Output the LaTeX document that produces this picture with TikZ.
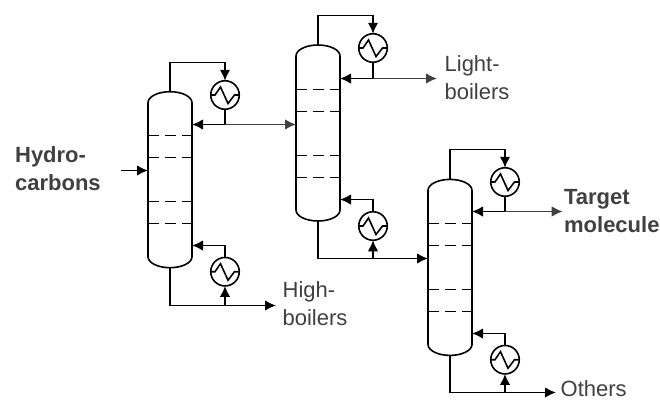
\documentclass[tikz,border=0pt]{standalone}
\usepackage{fontspec}
\setmainfont{Liberation Sans}
\usetikzlibrary{arrows.meta, positioning}

\definecolor{labelgray}{HTML}{404040}

\tikzset{
  column/.style = {minimum width = 44pt, minimum height = 176pt, inner sep = 0pt, outer sep = 0pt},
  exchanger/.style = {draw, circle, minimum size = 28.5pt, inner sep = 0pt, outer sep = 0pt,
    path picture = {
      \draw[shift = {(path picture bounding box.center)}]
        (-15pt, 0pt) -- (-10pt, 0pt) -- (-4.5pt, 8pt) -- (3pt, -8.5pt) -- (9.5pt, 0pt) -- (15pt, 0pt);
    }},
  tray/.style = {dash pattern = on 11pt off 6pt},
  outflow/.style = {draw = labelgray, fill = labelgray},
  streamlabel/.style = {text = labelgray, align = left, anchor = west, font = \fontsize{22}{28}\selectfont},
  mainlabel/.style = {streamlabel, font = \fontsize{22}{28}\selectfont\bfseries}
}

\newcommand{\drawcolumn}[1]{
  \draw ([yshift = -11pt]#1.north west) arc[start angle = 180, end angle = 0, x radius = 22pt, y radius = 11pt]
    -- ([yshift = 11pt]#1.south east) arc[start angle = 0, end angle = 180, x radius = 22pt, y radius = -11pt] -- cycle;
}

\begin{document}
\begin{tikzpicture}[>={Latex[length=11pt,width=10.5pt]}, x=1pt, y=-1pt, line width=1.6pt]
    \useasboundingbox (0,0) rectangle (660,399);

    % columns
    \node[column] (colOne) at (170,179.7) {};
    \node[column] (colTwo) at (318,133) {};
    \node[column] (colThree) at (450,267.4) {};
    \drawcolumn{colOne}
    \drawcolumn{colTwo}
    \drawcolumn{colThree}

    \foreach \y in {135.5,157.5,201.5,223.5}
      \draw[tray] (colOne.west |- 0,\y) -- (colOne.east |- 0,\y);
    \foreach \y in {89.5,111.5,155.5,177.5}
      \draw[tray] (colTwo.west |- 0,\y) -- (colTwo.east |- 0,\y);
    \foreach \y in {223.5,245.5,289.5,311.5}
      \draw[tray] (colThree.west |- 0,\y) -- (colThree.east |- 0,\y);

    % condensers and reboilers
    \node[exchanger] (condOne) at (225,95) {};
    \node[exchanger] (rebOne) at (225,271.7) {};
    \node[exchanger] (condTwo) at (373,48) {};
    \node[exchanger] (rebTwo) at (373,226) {};
    \node[exchanger] (condThree) at (505,182) {};
    \node[exchanger] (rebThree) at (505,359.7) {};

    % labels
    \node[mainlabel] (hydro) at (11,168.5) {Hydro-\\carbons};
    \node[streamlabel] (high) at (278.5,304) {High-\\boilers};
    \node[streamlabel] (light) at (440.5,78) {Light-\\boilers};
    \node[mainlabel] (target) at (560,211.5) {Target\\molecule};
    \node[streamlabel] (others) at (556.5,389) {Others};

    \coordinate (feedOne) at (121,170.5);
    \coordinate (outLight) at (437,78.5);
    \coordinate (outTarget) at (562.7,211.5);
    \coordinate (outHigh) at (276,305.5);
    \coordinate (outOthers) at (556,392.5);

    \draw[->] (feedOne) -- (feedOne -| colOne.west);

    % first column
    \draw[->] (colOne.north) -- ++(0,-29.2) -| (condOne.north);
    \coordinate (refluxOne) at (condOne.south |- 0,124.5);
    \draw (condOne.south) -- (refluxOne);
    \draw[->] (refluxOne) -- (refluxOne -| colOne.east);
    \draw[->, outflow] (refluxOne) -- (refluxOne -| colTwo.west);
    \draw[->] (rebOne.north) |- (colOne.east |- 0,245.5);
    \coordinate (bottomOne) at (rebOne.south |- outHigh);
    \draw[->] (colOne.south) |- (outHigh);
    \draw[->] (bottomOne) -- (rebOne.south);

    % second column
    \draw[->] (colTwo.north) -- ++(0,-29.5) -| (condTwo.north);
    \coordinate (refluxTwo) at (condTwo.south |- outLight);
    \draw (condTwo.south) -- (refluxTwo);
    \draw[->] (refluxTwo) -- (refluxTwo -| colTwo.east);
    \draw[->, outflow] (refluxTwo) -- (outLight);
    \draw[->] (rebTwo.north) |- (colTwo.east |- 0,199.5);
    \coordinate (bottomTwo) at (rebTwo.south |- 0,258.5);
    \draw[->] (colTwo.south) |- (bottomTwo -| colThree.west);
    \draw[->] (bottomTwo) -- (rebTwo.south);

    % third column
    \draw[->] (colThree.north) -- ++(0,-29.9) -| (condThree.north);
    \coordinate (refluxThree) at (condThree.south |- outTarget);
    \draw (condThree.south) -- (refluxThree);
    \draw[->] (refluxThree) -- (refluxThree -| colThree.east);
    \draw[->, outflow] (refluxThree) -- (outTarget);
    \draw[->] (rebThree.north) |- (colThree.east |- 0,333.5);
    \coordinate (bottomThree) at (rebThree.south |- outOthers);
    \draw[->] (colThree.south) |- (outOthers);
    \draw[->] (bottomThree) -- (rebThree.south);
\end{tikzpicture}
\end{document}
